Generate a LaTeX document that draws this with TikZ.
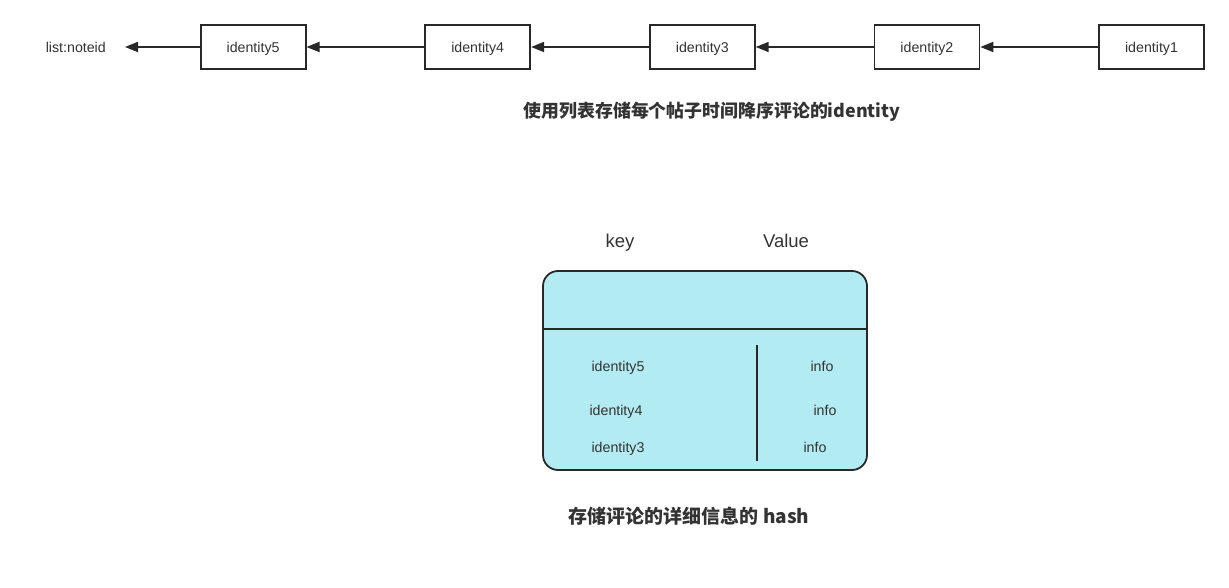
\documentclass[tikz,border=0pt]{standalone}
\usepackage{fontspec}
\setmainfont{Liberation Sans}
\newfontfamily\cjk{Noto Sans CJK SC}
\usetikzlibrary{arrows.meta,positioning}
\definecolor{hashcyan}{RGB}{178,235,242}
\definecolor{linegray}{RGB}{40,40,40}
\definecolor{txtgray}{RGB}{51,51,51}
\tikzset{>={Triangle[length=13pt,width=10pt]},
   every node/.style={text=txtgray},
   list_arrow/.style={->,draw=linegray,line width=1.8pt}
 }

\begin{document}
\begin{tikzpicture}[x=1pt,y=-1pt]
  \useasboundingbox (0,0) rectangle (1229,588);
  % the list of identities
  \begin{scope}
    \tikzstyle{list_node}=[draw=linegray,line width=1.8pt,minimum width=105pt,minimum height=44pt,inner sep=0pt,text height=1.9ex,text depth=0pt,font=\fontsize{14.2}{16}\selectfont]
    \foreach \s in {1,...,5}
    {
      \node[list_node] (I\s) at ({1151.5-224.6*(\s-1)},47) {identity\s};
    }
    \node[inner sep=0pt,inner xsep=19pt,anchor=east,text height=1.9ex,text depth=0pt,font=\fontsize{14.2}{16}\selectfont] (note) at (125,47) {list:noteid};
    \foreach \a/\b in {1/2,2/3,3/4,4/5}
      \draw[list_arrow] (I\a) -- (I\b);
    \draw[list_arrow] (I5) -- (note);
    \node[font=\cjk\bfseries\fontsize{17.9}{20}\selectfont] (title1) at (712,112) {使用列表存储每个帖子时间降序评论的identity};
  \end{scope}
  % the hash
  \begin{scope}
    \tikzstyle{hash_text}=[inner sep=0pt,text height=1.9ex,text depth=0pt,font=\fontsize{14.2}{16}\selectfont]
    \node[draw=linegray,fill=hashcyan,line width=1.8pt,rounded corners=15pt,minimum width=324pt,minimum height=199pt,inner sep=0pt] (tbl) at (705,370.5) {};
    \node[inner sep=0pt,text height=1.5ex,text depth=0.25ex,font=\fontsize{18.5}{20}\selectfont] (key) at (620,244) {key};
    \node[inner sep=0pt,text height=1.5ex,text depth=0.25ex,font=\fontsize{18.5}{20}\selectfont] (val) at (786,244) {Value};
    \coordinate (hl) at (543,329);
    \coordinate (hr) at (866,329);
    \coordinate (vt) at (757,345);
    \coordinate (vb) at (757,461);
    \draw[draw=linegray,line width=1.8pt] (hl) -- (hr);
    \draw[draw=linegray,line width=1.8pt] (vt) -- (vb);
    \node[hash_text] (k5) at (618,366) {identity5};
    \node[hash_text] (k4) at (616,410) {identity4};
    \node[hash_text] (k3) at (618,447) {identity3};
    \node[hash_text] (v5) at (822,366) {info};
    \node[hash_text] (v4) at (825,410) {info};
    \node[hash_text] (v3) at (815,447) {info};
    \node[font=\cjk\bfseries\fontsize{19}{21}\selectfont] (title2) at (689,516) {存储评论的详细信息的 hash};
  \end{scope}
\end{tikzpicture}
\end{document}
